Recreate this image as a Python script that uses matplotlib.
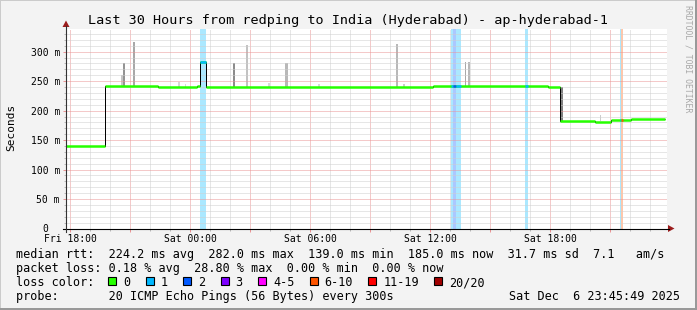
import numpy as np
import matplotlib
matplotlib.use("Agg")
import matplotlib.pyplot as plt
from matplotlib.patches import Rectangle, Polygon
from matplotlib.lines import Line2D
from matplotlib.colors import to_rgb

W, H = 697, 310

# time axis in hours since Fri 00:00, rtt in ms
med_t = [17.8, 19.75, 22.4, 24.35, 24.5, 24.78, 36.15, 41.9, 42.5, 44.25, 45.05, 46.05, 47.75]
med_v = [140, 242, 240, 241, 282, 240, 242, 240.5, 183, 180.5, 184.5, 186]

loss_t0 = [24.5, 37.05, 37.15, 37.3, 40.75, 45.5, 45.55]
loss_t1 = [24.78, 37.15, 37.3, 37.53, 40.92, 45.55, 45.67]
loss_cls = ["1", "1", "2", "1", "1", "1", "6-10"]

# smoke columns: start, end, low, high, grey level
smoke_t0 = [20.55, 20.67, 21.13, 23.40, 23.75, 24.50, 26.15, 26.80, 27.90, 28.75, 30.40,
            34.28, 34.65, 37.13, 37.13, 37.25, 37.35, 37.75, 37.90, 42.50, 44.50]
smoke_t1 = [20.67, 20.77, 21.27, 23.50, 23.82, 24.78, 26.27, 26.92, 28.00, 28.90, 30.50,
            34.40, 34.74, 37.25, 37.25, 37.35, 37.50, 37.82, 38.02, 42.65, 44.56]
smoke_lo = [242, 242, 242, 240, 240, 282, 240, 240, 240, 240, 240,
            240, 240, 242, 242, 242, 242, 242, 242, 183, 183]
smoke_hi = [260, 281, 317, 249, 245, 338, 280, 312, 247, 280, 245,
            313, 245, 338, 281, 317, 338, 283, 283, 240, 192]
smoke_grey = [0.78, 0.58, 0.66, 0.84, 0.85, 0.86, 0.55, 0.76, 0.85, 0.72, 0.85,
              0.72, 0.80, 0.80, 0.55, 0.62, 0.84, 0.66, 0.72, 0.50, 0.80]

loss_names = ["0", "1", "2", "3", "4-5", "6-10", "11-19", "20/20"]
loss_colors = ["#26ff00", "#00b8ff", "#0059ff", "#7e00ff", "#ff00ff", "#ff5500", "#ff0000", "#a10000"]

xtick_hours = [18, 21, 24, 27, 30, 33, 36, 39, 42, 45]
xtick_labels = ["Fri 18:00", "", "Sat 00:00", "", "Sat 06:00", "", "Sat 12:00", "", "Sat 18:00", ""]
ytick_vals = [0, 50, 100, 150, 200, 250, 300]

rtt_stats = [("224.2", "ms avg"), ("282.0", "ms max"), ("139.0", "ms min"),
             ("185.0", "ms now"), ("31.7", "ms sd"), ("7.1", "  am/s")]
loss_stats = [("0.18", "% avg"), ("28.80", "% max"), ("0.00", "% min"), ("0.00", "% now")]
probe_text = "20 ICMP Echo Pings (56 Bytes) every 300s"
stamp_text = "Sat Dec  6 23:45:49 2025"
title = "Last 30 Hours from redping to India (Hyderabad) - ap-hyderabad-1"

plt.rcParams['font.family'] = ['DejaVu Sans Mono']


def fx(px):
    return px / W


def fy(py):
    return 1 - py / H


def light(c, a=0.33):
    r, g, b = to_rgb(c)
    return (1 - a + a * r, 1 - a + a * g, 1 - a + a * b)


fig = plt.figure(figsize=(W / 100, H / 100), dpi=100, facecolor="#f3f3f3")
ax = fig.add_axes([fx(66), fy(228.5), (666.7 - 66) / W, (228.5 - 29) / H])
ax.set_facecolor("white")
ax.set_xlim(17.8, 47.83)
ax.set_ylim(0, 338.5)
for s in ax.spines.values():
    s.set_visible(False)

cmap = dict(zip(loss_names, loss_colors))

# loss background bands
for t0, t1, c in zip(loss_t0, loss_t1, loss_cls):
    ax.axvspan(t0, t1, color=light(cmap[c]), lw=0, zorder=1.2)

# smoke
for t0, t1, lo, hi, g in zip(smoke_t0, smoke_t1, smoke_lo, smoke_hi, smoke_grey):
    ax.bar(t0, hi - lo, width=t1 - t0, bottom=lo, align="edge", color=str(g), lw=0, zorder=1.1)

# grid
ax.set_xticks(xtick_hours)
ax.set_xticklabels(xtick_labels)
ax.set_xticks(np.arange(18, 48, 1), minor=True)
ax.set_yticks(ytick_vals)
ax.set_yticklabels([f"{v} m" if v else "" for v in ytick_vals])
ax.set_yticks(np.arange(0, 340, 10), minor=True)
ax.set_axisbelow(False)
ax.grid(which="minor", color="#cfcfcf", ls=(0, (1, 1)), lw=0.72)
ax.grid(which="major", color="#eb9595", ls=(0, (1, 1)), lw=0.72)
ax.tick_params(which="major", length=2.2, width=0.72, color="#eb9595", pad=2.2, labelsize=7)
ax.tick_params(which="minor", length=1.5, width=0.72, color="#bbbbbb")
ax.tick_params(axis="x", which="major", pad=1.5)

# median line: black steps, coloured flats
ax.stairs(med_v, med_t, baseline=None, color="black", lw=0.72, zorder=3)
ax.hlines(med_v, med_t[:-1], med_t[1:], color=cmap["0"], lw=1.8, zorder=3.5)
edges = np.array(med_t)
for t0, t1, c in zip(loss_t0, loss_t1, loss_cls):
    v = med_v[min(np.searchsorted(edges, (t0 + t1) / 2) - 1, len(med_v) - 1)]
    ax.hlines(v, t0, t1, color=cmap[c], lw=1.8, zorder=3.6)

# axes lines and arrows
fig.add_artist(Line2D([fx(62.5), fx(669)], [fy(228.5), fy(228.5)], color="black", lw=0.8))
fig.add_artist(Line2D([fx(66), fx(66)], [fy(232), fy(26)], color="#333333", lw=0.8))
fig.add_artist(Polygon([(fx(668), fy(225)), (fx(668), fy(232)), (fx(674.5), fy(228.5))],
                       closed=True, color="#9b1c1c", lw=0))
fig.add_artist(Polygon([(fx(62.5), fy(27)), (fx(69.5), fy(27)), (fx(66), fy(20.5))],
                       closed=True, color="#9b1c1c", lw=0))

# frame shading
fig.add_artist(Rectangle((0, fy(1)), 1, fy(0) - fy(1), transform=fig.transFigure, color="#cbcbcb", lw=0))
fig.add_artist(Rectangle((0, 0), fx(1), 1, transform=fig.transFigure, color="#cbcbcb", lw=0))
fig.add_artist(Rectangle((fx(695), 0), fx(2), 1, transform=fig.transFigure, color="#999999", lw=0))
fig.add_artist(Rectangle((0, 0), 1, 2 / H, transform=fig.transFigure, color="#999999", lw=0))

fig.text(fx(48.5), fy(228.3), "0", ha="right", va="center_baseline", fontsize=7)
fig.text(fx(348.5), fy(24), title, ha="center", va="baseline", fontsize=9.7)
fig.text(fx(11), fy(127), "Seconds", rotation=90, ha="center", va="center", fontsize=8)
fig.text(fx(688), fy(5), "RRDTOOL / TOBI OETIKER", rotation=270, ha="center", va="top",
         fontsize=5.9, color="#a8a8a8")

# legend
lf = 8.5
rtt_line = "median rtt:  " + "  ".join(f"{v} {u}" for v, u in rtt_stats)
loss_line = "packet loss: " + "  ".join(f"{v} {u}" for v, u in loss_stats)
fig.text(fx(16), fy(258), rtt_line, ha="left", va="baseline", fontsize=lf)
fig.text(fx(16), fy(272), loss_line, ha="left", va="baseline", fontsize=lf)
fig.text(fx(16), fy(286), "loss color:", ha="left", va="baseline", fontsize=lf)
fig.text(fx(16), fy(300), "probe:       " + probe_text, ha="left", va="baseline", fontsize=lf)
fig.text(fx(680), fy(300), stamp_text, ha="right", va="baseline", fontsize=lf)

x = 108.3
for name, col in zip(loss_names, loss_colors):
    fig.add_artist(Rectangle((fx(x), fy(285)), 8 / W, 8 / H, transform=fig.transFigure,
                             facecolor=col, edgecolor="black", lw=0.8))
    fig.text(fx(x + 15), fy(286), name, ha="left", va="baseline", fontsize=lf)
    x += 15 + len(name) * 7.1 + 15.3

fig.savefig("out.png", dpi=100, facecolor=fig.get_facecolor())
